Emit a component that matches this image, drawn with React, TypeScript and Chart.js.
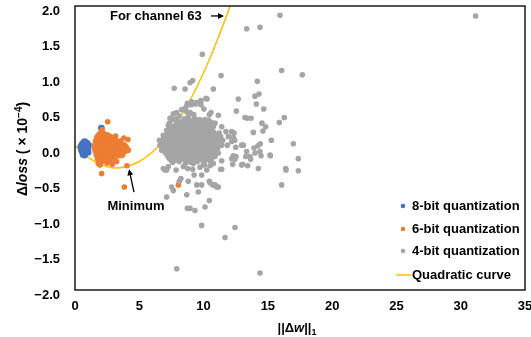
import React, { useEffect, useRef } from 'react';
import { Chart, registerables } from 'chart.js';

Chart.register(...registerables);

type Pt = [number, number];

const seriesLabels = ['8-bit quantization', '6-bit quantization', '4-bit quantization', 'Quadratic curve'];
const seriesColors = ['#4472C4', '#ED7D31', '#A5A5A5', '#FFC000'];

const xMin = 0;
const xMax = 35;
const xStep = 5;
const yMin = -2;
const yMax = 2;
const yStep = 0.5;

const bit8Points: Pt[] = [
  [0.45, 0.02], [0.55, 0.05], [0.6, -0.02], [0.65, 0.07], [0.7, 0.0], [0.72, -0.06], [0.78, 0.04],
  [0.8, -0.03], [0.85, 0.06], [0.88, 0.01], [0.9, -0.05], [0.95, 0.03], [1.0, -0.01], [1.05, 0.04],
  [0.62, -0.09], [0.75, -0.1], [0.82, 0.08], [0.68, 0.03], [0.92, 0.07], [0.58, -0.05], [1.02, -0.06],
  [0.5, -0.03], [0.74, 0.09], [2.05, 0.28],
];

const bit6Points: Pt[] = [
  [1.9, 0.2], [2.2, 0.21], [2.45, 0.19],
  [1.8, 0.175], [2.05, 0.18], [2.35, 0.17], [2.6, 0.18],
  [1.7, 0.15], [1.95, 0.16], [2.2, 0.14], [2.5, 0.15], [2.75, 0.16],
  [1.75, 0.125], [2.0, 0.13], [2.25, 0.12], [2.5, 0.13], [2.75, 0.12], [3.05, 0.13],
  [1.6, 0.1], [1.85, 0.11], [2.1, 0.09], [2.35, 0.1], [2.6, 0.11], [2.9, 0.09], [3.2, 0.1],
  [1.65, 0.075], [1.95, 0.08], [2.2, 0.07], [2.45, 0.08], [2.7, 0.07], [2.95, 0.08], [3.2, 0.07], [3.45, 0.08],
  [1.55, 0.05], [1.8, 0.04], [2.05, 0.06], [2.3, 0.05], [2.55, 0.04], [2.8, 0.06], [3.05, 0.05], [3.3, 0.04], [3.55, 0.06], [3.8, 0.05],
  [1.6, 0.025], [1.9, 0.03], [2.15, 0.02], [2.4, 0.03], [2.65, 0.02], [2.9, 0.03], [3.15, 0.02], [3.4, 0.03], [3.65, 0.02], [3.9, 0.03],
  [1.5, 0.0], [1.75, 0.01], [2.0, -0.01], [2.25, 0.0], [2.5, 0.01], [2.75, -0.01], [3.0, 0.0], [3.25, 0.01], [3.5, -0.01], [3.75, 0.0], [4.0, 0.01],
  [1.55, -0.025], [1.8, -0.02], [2.05, -0.03], [2.3, -0.02], [2.55, -0.03], [2.8, -0.02], [3.05, -0.03], [3.3, -0.02], [3.6, -0.03],
  [1.6, -0.05], [1.85, -0.04], [2.1, -0.06], [2.35, -0.05], [2.6, -0.04], [2.85, -0.06], [3.1, -0.05], [3.35, -0.04], [3.6, -0.06], [3.9, -0.05],
  [1.7, -0.075], [1.95, -0.07], [2.2, -0.08], [2.5, -0.07], [2.75, -0.08], [3.0, -0.07], [3.3, -0.08],
  [1.65, -0.1], [1.9, -0.11], [2.15, -0.09], [2.4, -0.1], [2.65, -0.11], [2.9, -0.09], [3.2, -0.1], [3.45, -0.11],
  [1.75, -0.125], [2.05, -0.13], [2.3, -0.12], [2.55, -0.13], [2.8, -0.12], [3.1, -0.13],
  [1.75, -0.15], [2.0, -0.16], [2.3, -0.14], [2.6, -0.15], [2.85, -0.16],
  [1.9, -0.175], [2.2, -0.17], [2.45, -0.18], [2.7, -0.17],
  [1.85, -0.2], [2.15, -0.19], [2.5, -0.21],
  [2.1, 0.26], [2.54, 0.37], [3.16, 0.17], [3.8, 0.14], [4.12, 0.12], [4.15, -0.03], [4.04, -0.25],
  [3.24, -0.19], [2.9, -0.23], [2.07, -0.36], [3.84, -0.55], [1.81, -0.22], [1.95, -0.24], [3.0, 0.12],
  [3.55, 0.1], [3.7, -0.1], [8.04, -0.52],
];

const bit4Points: Pt[] = [
  // core
  [8.5, 0.41], [8.9, 0.39], [9.3, 0.42], [9.7, 0.4], [10.2, 0.38],
  [8.3, 0.37], [8.7, 0.38], [9.1, 0.37], [9.5, 0.38], [9.9, 0.37], [10.4, 0.39],
  [7.9, 0.33], [8.3, 0.35], [8.7, 0.34], [9.1, 0.36], [9.5, 0.33], [9.8, 0.35], [10.3, 0.33], [10.6, 0.36],
  [7.7, 0.31], [8.0, 0.32], [8.3, 0.31], [8.6, 0.32], [9.0, 0.31], [9.4, 0.32], [9.75, 0.31], [10.1, 0.3], [10.5, 0.31],
  [7.5, 0.28], [7.8, 0.27], [8.1, 0.29], [8.5, 0.28], [8.8, 0.3], [9.2, 0.27], [9.6, 0.29], [9.9, 0.28], [10.3, 0.27],
  [7.4, 0.25], [7.7, 0.26], [8.0, 0.25], [8.35, 0.26], [8.7, 0.25], [9.05, 0.26], [9.45, 0.25], [9.8, 0.26], [10.2, 0.25], [10.6, 0.26],
  [7.3, 0.22], [7.6, 0.23], [7.9, 0.21], [8.2, 0.22], [8.6, 0.24], [8.9, 0.21], [9.3, 0.23], [9.6, 0.22], [10.0, 0.21], [10.4, 0.23], [10.8, 0.22],
  [7.15, 0.19], [7.45, 0.2], [7.8, 0.19], [8.15, 0.18], [8.55, 0.19], [8.85, 0.2], [9.2, 0.19], [9.55, 0.18], [9.95, 0.19], [10.3, 0.2], [10.7, 0.19], [11.1, 0.18],
  [7.0, 0.16], [7.3, 0.15], [7.7, 0.17], [8.0, 0.16], [8.4, 0.15], [8.7, 0.17], [9.1, 0.16], [9.4, 0.15], [9.8, 0.17], [10.1, 0.16], [10.5, 0.15], [10.9, 0.17],
  [6.9, 0.13], [7.2, 0.13], [7.6, 0.14], [7.95, 0.13], [8.3, 0.12], [8.65, 0.13], [9.0, 0.14], [9.35, 0.13], [9.75, 0.12], [10.05, 0.13], [10.45, 0.14], [10.85, 0.13], [11.2, 0.12],
  [6.8, 0.1], [7.1, 0.11], [7.5, 0.09], [7.8, 0.1], [8.2, 0.11], [8.5, 0.09], [8.9, 0.1], [9.2, 0.11], [9.6, 0.09], [9.9, 0.1], [10.3, 0.11], [10.7, 0.09], [11.0, 0.1],
  [6.7, 0.07], [7.0, 0.07], [7.35, 0.08], [7.7, 0.07], [8.05, 0.06], [8.35, 0.07], [8.75, 0.08], [9.05, 0.07], [9.45, 0.06], [9.75, 0.07], [10.15, 0.08], [10.5, 0.07], [10.9, 0.06], [11.25, 0.07],
  [6.9, 0.04], [7.2, 0.03], [7.6, 0.05], [7.9, 0.04], [8.3, 0.03], [8.6, 0.05], [9.0, 0.04], [9.3, 0.03], [9.7, 0.05], [10.0, 0.04], [10.4, 0.03], [10.8, 0.05],
  [6.85, 0.01], [7.1, 0.01], [7.45, 0.02], [7.8, 0.01], [8.2, 0.0], [8.5, 0.01], [8.9, 0.02], [9.2, 0.01], [9.6, 0.0], [9.9, 0.01], [10.3, 0.02], [10.7, 0.01], [11.1, 0.0],
  [7.0, -0.02], [7.4, -0.01], [7.7, -0.03], [8.1, -0.02], [8.4, -0.01], [8.8, -0.03], [9.1, -0.02], [9.5, -0.01], [9.8, -0.03], [10.2, -0.02], [10.6, -0.01], [11.0, -0.03],
  [6.95, -0.05], [7.3, -0.05], [7.6, -0.04], [7.95, -0.05], [8.3, -0.06], [8.65, -0.05], [9.0, -0.04], [9.4, -0.05], [9.7, -0.06], [10.1, -0.05], [10.5, -0.04], [10.9, -0.05],
  [7.1, -0.08], [7.5, -0.09], [7.8, -0.07], [8.2, -0.08], [8.5, -0.09], [8.9, -0.07], [9.3, -0.08], [9.6, -0.09], [10.0, -0.07], [10.4, -0.08], [10.8, -0.09],
  [7.2, -0.11], [7.6, -0.11], [7.95, -0.1], [8.3, -0.11], [8.65, -0.12], [9.05, -0.11], [9.45, -0.1], [9.8, -0.11], [10.2, -0.12], [10.6, -0.11],
  [7.3, -0.14], [7.7, -0.13], [8.0, -0.15], [8.4, -0.14], [8.7, -0.13], [9.1, -0.15], [9.5, -0.14], [9.9, -0.13], [10.3, -0.15],
  [7.45, -0.17], [7.85, -0.17], [8.25, -0.16], [8.6, -0.17], [8.95, -0.18], [9.3, -0.17], [9.75, -0.16], [10.15, -0.17], [10.5, -0.18],
  [7.6, -0.2], [8.1, -0.19], [8.6, -0.21], [9.0, -0.2], [9.5, -0.19], [10.0, -0.21],
  // core edges
  [8.11, 0.45], [7.6, 0.4], [7.34, 0.35], [7.91, 0.37], [9.9, 0.36], [10.11, 0.4], [10.89, 0.35], [10.76, 0.3],
  [11.41, 0.3], [11.74, 0.23], [12.19, 0.23], [11.93, 0.16], [11.22, 0.21], [11.33, 0.16], [11.49, 0.11],
  [11.15, 0.07], [11.41, 0.04], [11.85, 0.04], [12.19, -0.15], [11.41, -0.18], [11.15, -0.07], [10.76, -0.05],
  [10.89, -0.12], [10.63, -0.15], [10.76, -0.22], [10.06, -0.24], [9.72, -0.27], [9.2, -0.22], [9.15, -0.3],
  [8.77, -0.29], [8.43, -0.26], [7.86, -0.31], [7.26, -0.26], [7.0, -0.31], [6.74, -0.03], [6.61, 0.04],
  [6.56, 0.11], [6.87, 0.18], [7.13, 0.25], [7.26, 0.32], [7.39, 0.42], [7.65, 0.48], [7.91, 0.5], [8.3, 0.54],
  [8.56, 0.56], [9.07, 0.61], [8.69, 0.51], [8.95, 0.5], [9.8, 0.67],
  // scattered
  [15.94, 1.87], [13.35, 1.68], [14.39, 1.7], [31.16, 1.86], [9.9, 1.32], [16.07, 1.09], [17.68, 1.03],
  [11.36, 1.02], [14.18, 0.94], [9.15, 0.95], [8.95, 0.92], [7.72, 0.84], [8.56, 0.83], [10.76, 0.83],
  [12.7, 0.69], [10.27, 0.69], [14.0, 0.73], [14.31, 0.76], [14.1, 0.62], [14.68, 0.55], [12.55, 0.52],
  [9.78, 0.66], [9.07, 0.65], [8.74, 0.63], [8.69, 0.59], [9.41, 0.62], [9.8, 0.61], [10.03, 0.55],
  [10.58, 0.5], [10.45, 0.47], [11.15, 0.46], [13.22, 0.43], [13.4, 0.42], [13.69, 0.42], [16.28, 0.43],
  [15.89, 0.36], [14.54, 0.35], [14.83, 0.3], [14.62, 0.24], [13.87, 0.22], [12.37, 0.21], [12.31, 0.15],
  [12.42, 0.11], [12.19, 0.09], [15.27, 0.11], [16.98, 0.06], [13.09, 0.04], [12.5, 0.01], [13.92, 0.0],
  [14.23, 0.03], [14.41, 0.06], [7.44, 0.42], [7.91, 0.41], [8.81, 0.44], [9.23, 0.47], [10.19, 0.7], [9.46, 0.64],
  [12.96, 0.04], [14.39, -0.05], [13.35, -0.05], [13.61, -0.12], [15.17, -0.1], [12.31, -0.11], [12.44, -0.16],
  [12.27, -0.23], [13.04, -0.23], [13.43, -0.25], [14.26, -0.29], [11.33, -0.3], [10.5, -0.25], [10.24, -0.31],
  [9.85, -0.38], [9.26, -0.38], [8.81, -0.47], [10.45, -0.47], [10.71, -0.52], [11.15, -0.55], [8.24, -0.43],
  [8.11, -0.47], [7.52, -0.55], [7.13, -0.31], [6.87, -0.29], [7.13, -0.69], [7.65, -0.6], [8.69, -0.66],
  [9.59, -0.62], [9.47, -0.52], [9.85, -0.52], [10.45, -0.74], [10.11, -0.83], [8.74, -0.85], [8.95, -0.85],
  [9.33, -0.88], [9.85, -1.09], [12.44, -1.12], [11.67, -1.26], [7.91, -1.7], [14.39, -1.76], [16.07, -0.52],
  [16.39, -0.29], [17.37, -0.32], [17.37, -0.15], [11.02, -0.55], [10.89, -0.52], [10.5, -0.49], [11.41, -0.3],
  [16.41, -0.31], [14.0, -0.07], [13.28, -0.12], [13.66, -0.16], [14.47, -0.11], [15.19, -0.11], [12.96, -0.24],
  [12.52, -0.12],
];

const curveX = [0, 1, 2, 3, 4, 5, 6, 7, 8, 9, 10, 11, 12, 12.5];
const curveY = [0.03, -0.13, -0.23, -0.28, -0.26, -0.19, -0.06, 0.13, 0.38, 0.69, 1.06, 1.49, 1.97, 2.24];

// annotation anchors (data coordinates)
const channelLabel = 'For channel 63';
const channelTextAt: Pt = [2.72, 1.86];
const channelArrowFrom: Pt = [10.58, 1.86];
const channelArrowTo: Pt = [11.59, 1.86];
const minimumLabel = 'Minimum';
const minimumTextAt: Pt = [4.74, -0.82];
const minimumArrowFrom: Pt = [4.59, -0.62];
const minimumArrowTo: Pt = [4.2, -0.3];

const FONT = '"Liberation Sans", Arial, Helvetica, sans-serif';
const TEXT = '#000000';

function toXY(pts: Pt[]) {
  return pts.map(([x, y]) => ({ x, y }));
}

function drawArrow(ctx: CanvasRenderingContext2D, x1: number, y1: number, x2: number, y2: number) {
  const ang = Math.atan2(y2 - y1, x2 - x1);
  const hl = 6;
  const hw = 3;
  ctx.save();
  ctx.strokeStyle = TEXT;
  ctx.fillStyle = TEXT;
  ctx.lineWidth = 1.3;
  ctx.beginPath();
  ctx.moveTo(x1, y1);
  ctx.lineTo(x2 - Math.cos(ang) * hl * 0.8, y2 - Math.sin(ang) * hl * 0.8);
  ctx.stroke();
  ctx.beginPath();
  ctx.moveTo(x2, y2);
  ctx.lineTo(x2 - Math.cos(ang) * hl - Math.sin(ang) * hw, y2 - Math.sin(ang) * hl + Math.cos(ang) * hw);
  ctx.lineTo(x2 - Math.cos(ang) * hl + Math.sin(ang) * hw, y2 - Math.sin(ang) * hl - Math.cos(ang) * hw);
  ctx.closePath();
  ctx.fill();
  ctx.restore();
}

type Seg = { t: string; italic?: boolean; size?: number; dy?: number };

function drawSegs(ctx: CanvasRenderingContext2D, segs: Seg[], cx: number, cy: number, base: number) {
  const widths = segs.map((s) => {
    ctx.font = `${s.italic ? 'italic ' : ''}bold ${s.size || base}px ${FONT}`;
    return ctx.measureText(s.t).width;
  });
  const total = widths.reduce((a, b) => a + b, 0);
  let x = cx - total / 2;
  ctx.textAlign = 'left';
  ctx.textBaseline = 'alphabetic';
  segs.forEach((s, i) => {
    ctx.font = `${s.italic ? 'italic ' : ''}bold ${s.size || base}px ${FONT}`;
    ctx.fillText(s.t, x, cy + base * 0.35 + (s.dy || 0));
    x += widths[i];
  });
}

const overlayPlugin = {
  id: 'overlay',
  afterDraw(chart: any) {
    const { ctx, chartArea } = chart;
    const xs = chart.scales.x;
    const ys = chart.scales.y;
    const px = (p: Pt) => [xs.getPixelForValue(p[0]), ys.getPixelForValue(p[1])];
    ctx.save();

    // plot border
    ctx.strokeStyle = '#1a1a1a';
    ctx.lineWidth = 1.5;
    ctx.strokeRect(chartArea.left, chartArea.top, chartArea.right - chartArea.left, chartArea.bottom - chartArea.top);

    ctx.fillStyle = TEXT;
    // annotations
    ctx.font = `bold 13px ${FONT}`;
    ctx.textBaseline = 'middle';
    ctx.textAlign = 'left';
    const ct = px(channelTextAt);
    ctx.fillText(channelLabel, ct[0], ct[1]);
    const ca = px(channelArrowFrom);
    const cb = px(channelArrowTo);
    drawArrow(ctx, ca[0], ca[1], cb[0], cb[1]);

    ctx.textAlign = 'center';
    const mt = px(minimumTextAt);
    ctx.fillText(minimumLabel, mt[0], mt[1]);
    const ma = px(minimumArrowFrom);
    const mb = px(minimumArrowTo);
    drawArrow(ctx, ma[0], ma[1], mb[0], mb[1]);

    // legend
    const ds = chart.data.datasets;
    const rowsY = [84, 61, 39, 15];
    ds.forEach((d: any, i: number) => {
      const y = chartArea.bottom - rowsY[i];
      const tx = chartArea.right - 113;
      if (d.showLine) {
        ctx.strokeStyle = d.borderColor;
        ctx.lineWidth = 1.5;
        ctx.beginPath();
        ctx.moveTo(tx - 16, y);
        ctx.lineTo(tx - 1, y);
        ctx.stroke();
      } else {
        ctx.fillStyle = d.backgroundColor;
        ctx.beginPath();
        ctx.arc(tx - 9, y, 2.3, 0, Math.PI * 2);
        ctx.fill();
      }
      ctx.fillStyle = TEXT;
      ctx.font = `bold 13px ${FONT}`;
      ctx.textAlign = 'left';
      ctx.textBaseline = 'middle';
      ctx.fillText(d.label, tx, y);
    });

    // y-axis title
    ctx.save();
    ctx.translate(22, (chartArea.top + chartArea.bottom) / 2 + 1);
    ctx.rotate(-Math.PI / 2);
    ctx.fillStyle = TEXT;
    drawSegs(ctx, [
      { t: '\u0394' },
      { t: 'loss', italic: true },
      { t: ' ( \u00d7 10' },
      { t: '\u22124', size: 10, dy: -5 },
      { t: ')' },
    ], 0, 0, 14);
    ctx.restore();

    // x-axis title
    ctx.fillStyle = TEXT;
    drawSegs(ctx, [
      { t: '||\u0394' },
      { t: 'w', italic: true },
      { t: '||' },
      { t: '1', size: 9, dy: 3 },
    ], (chartArea.left + chartArea.right) / 2 - 3, 327, 13);

    ctx.restore();
  },
};

export default function App() {
  const ref = useRef<HTMLCanvasElement | null>(null);

  useEffect(() => {
    if (!ref.current) return;
    const chart = new Chart(ref.current, {
      type: 'scatter',
      data: {
        datasets: [
          {
            label: seriesLabels[0],
            data: toXY(bit8Points),
            backgroundColor: seriesColors[0],
            borderColor: seriesColors[0],
            pointRadius: 3.4,
            borderWidth: 0,
            order: 3,
          },
          {
            label: seriesLabels[1],
            data: toXY(bit6Points),
            backgroundColor: seriesColors[1],
            borderColor: seriesColors[1],
            pointRadius: 2.8,
            borderWidth: 0,
            order: 2,
          },
          {
            label: seriesLabels[2],
            data: toXY(bit4Points),
            backgroundColor: seriesColors[2],
            borderColor: seriesColors[2],
            pointRadius: 2.8,
            borderWidth: 0,
            order: 1,
          },
          {
            label: seriesLabels[3],
            data: curveX.map((x, i) => ({ x, y: curveY[i] })),
            showLine: true,
            borderColor: seriesColors[3],
            backgroundColor: seriesColors[3],
            borderWidth: 1.5,
            pointRadius: 0,
            tension: 0.4,
            order: 4,
          } as any,
        ],
      },
      options: {
        animation: false,
        responsive: false,
        devicePixelRatio: 1,
        layout: { padding: { top: 6, right: 6, left: 0, bottom: 0 } },
        plugins: { legend: { display: false }, tooltip: { enabled: false }, title: { display: false } },
        scales: {
          x: {
            type: 'linear',
            min: xMin,
            max: xMax,
            grid: { display: false, drawTicks: false },
            border: { display: false },
            ticks: {
              stepSize: xStep,
              maxRotation: 0,
              autoSkip: false,
              padding: 9,
              color: TEXT,
              font: { family: FONT, size: 13, weight: 'bold' },
              callback: (v: any) => String(v),
            },
            afterFit: (s: any) => {
              s.height = 47;
              s.paddingLeft = 0;
              s.paddingRight = 0;
            },
          },
          y: {
            type: 'linear',
            min: yMin,
            max: yMax,
            grid: { display: false, drawTicks: false },
            border: { display: false },
            ticks: {
              stepSize: yStep,
              padding: 15,
              labelOffset: 5,
              color: TEXT,
              font: { family: FONT, size: 13, weight: 'bold' },
              callback: (v: any) => {
                const n = Number(v);
                const s = Math.abs(n).toFixed(1);
                return n < -1e-9 ? '\u2212' + s : s;
              },
            },
            afterFit: (s: any) => {
              s.width = 75;
              s.paddingTop = 0;
              s.paddingBottom = 0;
            },
          },
        },
      } as any,
      plugins: [overlayPlugin],
    });
    return () => chart.destroy();
  }, []);

  return (
    <div style={{ position: 'fixed', left: 0, top: 0, width: 531, height: 337, background: '#fff' }}>
      <canvas ref={ref} width={531} height={337} style={{ display: 'block', width: 531, height: 337 }} />
    </div>
  );
}
